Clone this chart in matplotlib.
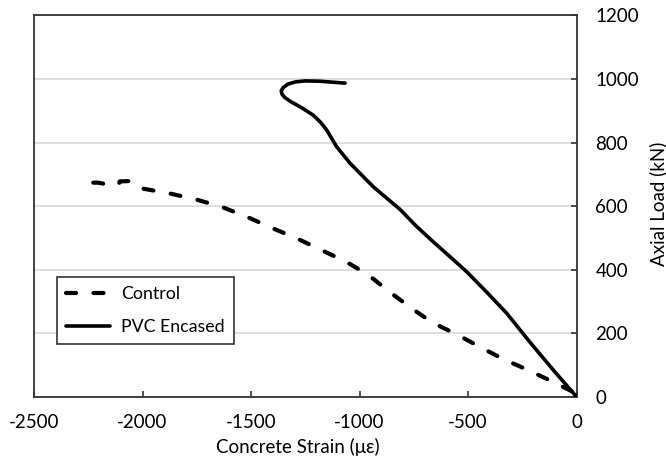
import matplotlib
matplotlib.use("Agg")
import matplotlib.pyplot as plt

plt.rcParams['font.family'] = ['Lato', 'DejaVu Sans']
plt.rcParams['axes.unicode_minus'] = False

# Control (dashed) - concrete strain (με), axial load (kN)
control_strain = [-2227, -2204, -2149, -2110, -2105, -2058, -2005, -1881, -1758, -1640,
                  -1524, -1409, -1290, -1179, -1064, -960, -865, -765, -665, -553,
                  -442, -338, -238, -104, -17, 0]
control_load = [674, 674, 667, 668, 678, 679, 656, 641, 622, 599,
                568, 533, 499, 463, 426, 384, 332, 281, 234, 197,
                156, 119, 89, 46, 16, 0]

# PVC Encased (solid)
pvc_strain = [0, -108, -215, -322, -415, -507, -585, -661, -740, -814, -937, -1044,
              -1106, -1152, -1180, -1215, -1275, -1318, -1345, -1358, -1361, -1352,
              -1330, -1295, -1250, -1183, -1067]
pvc_load = [0, 85, 172, 263, 330, 394, 442, 488, 538, 590, 661, 735,
            787, 840, 864, 887, 913, 929, 942, 953, 963, 973,
            984, 991, 994, 993, 987]

x_ticks = [-2500, -2000, -1500, -1000, -500, 0]
y_ticks = [0, 200, 400, 600, 800, 1000, 1200]

FS = 13.5

fig = plt.figure(figsize=(6.66, 4.59), dpi=100)
ax = fig.add_axes([34/666, 1-397/459, 542.7/666, 381.6/459])

ax.plot(control_strain, control_load, color='black', lw=3.0,
        linestyle=(0, (2.4, 4.2)), dash_capstyle='round', label='Control', zorder=3)
ax.plot(pvc_strain, pvc_load, color='black', lw=2.6, solid_capstyle='round',
        solid_joinstyle='round', label='PVC Encased', zorder=3)

ax.set_xlim(-2500, 0)
ax.set_ylim(0, 1200)
ax.set_xticks(x_ticks)
ax.set_yticks(y_ticks)
ax.yaxis.tick_right()
ax.grid(axis='y', color='#d9d9d9', lw=1.2, zorder=0)
ax.set_axisbelow(True)

for s in ax.spines.values():
    s.set_color('#333333')
    s.set_linewidth(1.3)

ax.tick_params(axis='x', direction='in', length=4, width=1.2, color='#333333',
               labelsize=FS, pad=12.5)
ax.tick_params(axis='y', direction='in', length=4, width=1.2, color='#333333',
               labelsize=FS, pad=13.5, right=True, left=False)

fig.text(298/666, 1-447/459, 'Concrete Strain (με)', ha='center', va='center', fontsize=FS)
fig.text(658/666, 1-204/459, 'Axial Load (kN)', ha='center', va='center',
         rotation=90, fontsize=FS)

leg = ax.legend(loc='upper left', bbox_to_anchor=(0.0424, 0.3145), borderaxespad=0,
                fontsize=12.8, handlelength=2.5, handletextpad=0.6,
                labelspacing=0.95, borderpad=0.5, fancybox=False, framealpha=1)
leg.get_frame().set_edgecolor('#333333')
leg.get_frame().set_linewidth(1.2)

fig.savefig('out.png', dpi=100)
